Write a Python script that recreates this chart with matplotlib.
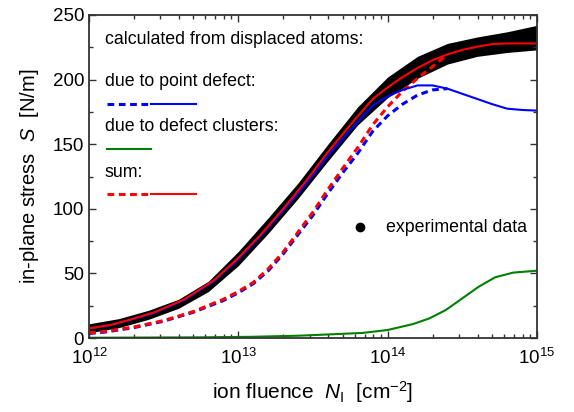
import numpy as np
import matplotlib
matplotlib.use('agg')
import matplotlib.pyplot as plt

plt.rcParams['font.family'] = ['Liberation Sans', 'DejaVu Sans']
plt.rcParams['mathtext.fontset'] = 'custom'
plt.rcParams['mathtext.rm'] = 'Liberation Sans'
plt.rcParams['mathtext.it'] = 'Liberation Sans:italic'

# experimental data band (log10 of fluence, lower and upper edge of the dot cloud)
exp_logx = [12.0, 12.2, 12.4, 12.6, 12.8, 13.0, 13.2, 13.4, 13.6, 13.8,
            14.0, 14.2, 14.4, 14.6, 14.8, 15.0]
exp_low = [4, 8, 14.5, 23, 36, 56, 81, 108, 137, 165, 186, 201, 212, 218, 221, 223]
exp_high = [11, 15, 21.5, 30, 44, 67, 93, 120, 150, 179, 202, 218, 228, 233, 237, 242]

# sum, solid
sum_logx = [12.0, 12.14, 12.27, 12.44, 12.64, 12.84, 13.0, 13.15, 13.3, 13.45,
            13.6, 13.75, 13.9, 14.0, 14.1, 14.2, 14.3, 14.4, 14.5, 14.6,
            14.7, 14.8, 14.9, 15.0]
sum_solid = [7.5, 10, 14, 20, 30, 45, 62, 80, 100, 121,
             144, 165, 185, 194, 202, 209, 215, 219.5, 223, 225.5,
             227.5, 228, 228, 228]

# point defect, solid
pd_solid = [7.3, 9.8, 13.7, 19.6, 29.5, 44.3, 61, 79, 98.5, 119,
            141, 161, 180, 187, 192, 195.5, 195.5, 193, 189, 185,
            181, 177.5, 176.5, 176]

# dashed curves
dash_logx = [12.0, 12.1, 12.3, 12.5, 12.7, 12.9, 13.0, 13.1, 13.2, 13.3,
             13.4, 13.5, 13.6, 13.7, 13.8, 13.9, 14.0, 14.1, 14.2, 14.3, 14.4]
pd_dash = [3.5, 4.5, 8, 13, 20, 29, 35, 42, 52, 65,
           80, 95, 112, 128, 143, 160, 172, 181, 188, 192, 193]
sum_dash = [4, 5, 8.5, 13.5, 20.5, 30, 36, 43, 53.5, 66.5,
            82, 97.5, 115, 131.5, 147.5, 165, 179, 191, 201, 210, 219.5]

# defect clusters
cl_logx = [12.0, 12.74, 13.08, 13.41, 13.61, 13.83, 14.0, 14.17, 14.28, 14.39,
           14.5, 14.61, 14.72, 14.84, 15.0]
cl_solid = [0.2, 0.5, 0.9, 1.8, 2.8, 3.9, 6.2, 10.8, 15.2, 21.7, 30.7, 39.7, 47, 50.6, 52.1]

blue = '#0000ff'
red = '#ff0000'
green = '#008000'

fig = plt.figure(figsize=(5.74, 4.12), dpi=100)
ax = fig.add_axes([0.155, 0.1796, 0.7805, 0.784])

ex = 10.0 ** np.array(exp_logx)
ax.fill_between(ex, exp_low, exp_high, color='black', lw=0)

dash = (0, (2.2, 1.5))
ax.plot(10.0 ** np.array(dash_logx), pd_dash, color=blue, lw=2.2, ls=dash)
ax.plot(10.0 ** np.array(dash_logx), sum_dash, color=red, lw=2.2, ls=dash)
ax.plot(10.0 ** np.array(cl_logx), cl_solid, color=green, lw=1.5)
ax.plot(10.0 ** np.array(sum_logx), pd_solid, color=blue, lw=1.5)
ax.plot(10.0 ** np.array(sum_logx), sum_solid, color=red, lw=1.5)

ax.set_xscale('log')
ax.set_xlim(1e12, 1e15)
ax.set_ylim(0, 250)
ax.set_yticks([0, 50, 100, 150, 200, 250])
ax.set_yticks(np.arange(25, 250, 50), minor=True)
ax.tick_params(which='both', direction='in', top=True, right=True,
               labelsize=13.5, width=1, color='#333333')
ax.tick_params(which='major', length=5)
ax.tick_params(which='minor', length=3)
ax.tick_params(axis='x', pad=7)
for s in ax.spines.values():
    s.set_linewidth(1.3)
    s.set_color('#333333')

ax.set_xlabel(r'ion fluence  $N_\mathrm{I}$  [cm$^{-2}$]', fontsize=15, labelpad=8)
ax.set_ylabel(r'in-plane stress  $S$  [N/m]', fontsize=14.5, labelpad=8)

# legend drawn by hand
tr = ax.transAxes
def ax_xy(px, py):
    return (px - 89) / 448.0, (338 - py) / 323.0

fs = 12.8
x0, _ = ax_xy(105, 0)
ax.text(x0, ax_xy(0, 40)[1], 'calculated from displaced atoms:', transform=tr, fontsize=fs, va='center')
ax.text(x0, ax_xy(0, 82)[1], 'due to point defect:', transform=tr, fontsize=fs, va='center')
ax.text(x0, ax_xy(0, 127)[1], 'due to defect clusters:', transform=tr, fontsize=fs, va='center')
ax.text(x0, ax_xy(0, 172)[1], 'sum:', transform=tr, fontsize=fs, va='center')

xa, xb, xc = ax_xy(107, 0)[0], ax_xy(151, 0)[0], ax_xy(196, 0)[0]
for py, col in [(104, blue), (194, red)]:
    yy = ax_xy(0, py)[1]
    ax.plot([xa, xb], [yy, yy], color=col, lw=2.2, ls=dash, transform=tr)
    ax.plot([xb, xc], [yy, yy], color=col, lw=1.5, transform=tr)
yy = ax_xy(0, 149)[1]
ax.plot([xa, xb], [yy, yy], color=green, lw=1.5, transform=tr)

ax.plot([ax_xy(360, 0)[0]], [ax_xy(0, 227)[1]], 'o', color='black', ms=6, transform=tr)
ax.text(ax_xy(386, 0)[0], ax_xy(0, 227)[1], 'experimental data', transform=tr, fontsize=fs, va='center')

fig.savefig('out.png', dpi=100)
